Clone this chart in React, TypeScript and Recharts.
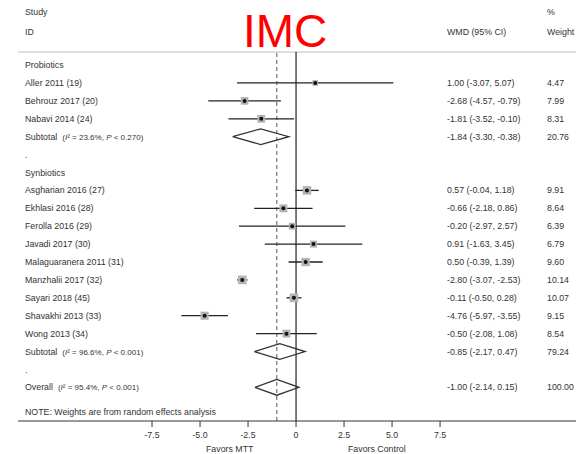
import React from 'react';
import { ScatterChart, Scatter, XAxis, YAxis, ErrorBar, ReferenceLine } from 'recharts';

const FONT = '"Liberation Sans", Arial, Helvetica, sans-serif';
const INK = '#333';

// individual trials
const studies = [
  'Aller 2011 (19)',
  'Behrouz 2017 (20)',
  'Nabavi 2014 (24)',
  'Asgharian 2016 (27)',
  'Ekhlasi 2016 (28)',
  'Ferolla 2016 (29)',
  'Javadi 2017 (30)',
  'Malaguaranera 2011 (31)',
  'Manzhalii 2017 (32)',
  'Sayari 2018 (45)',
  'Shavakhi 2013 (33)',
  'Wong 2013 (34)',
];
const studyEffect = [1.0, -2.68, -1.81, 0.57, -0.66, -0.2, 0.91, 0.5, -2.8, -0.11, -4.76, -0.5];
const studyLower = [-3.07, -4.57, -3.52, -0.04, -2.18, -2.97, -1.63, -0.39, -3.07, -0.5, -5.97, -2.08];
const studyUpper = [5.07, -0.79, -0.1, 1.18, 0.86, 2.57, 3.45, 1.39, -2.53, 0.28, -3.55, 1.08];
const studyWeight = [4.47, 7.99, 8.31, 9.91, 8.64, 6.39, 6.79, 9.6, 10.14, 10.07, 9.15, 8.54];
const studyRow = [1, 2, 3, 7, 8, 9, 10, 11, 12, 13, 14, 15];

// pooled estimates
const pooledNames = ['Subtotal', 'Subtotal', 'Overall'];
const pooledI2 = ['23.6%', '96.6%', '95.4%'];
const pooledP = ['0.270', '0.001', '0.001'];
const pooledEffect = [-1.84, -0.85, -1.0];
const pooledLower = [-3.3, -2.17, -2.14];
const pooledUpper = [-0.38, 0.47, 0.15];
const pooledWeight = ['20.76', '79.24', '100.00'];
const pooledRow = [4, 16, 18];

const groupNames = ['Probiotics', 'Synbiotics'];
const groupRow = [0, 6];
const spacerRow = [5, 17];
const noteRow = 19.35;
const noteText = 'NOTE: Weights are from random effects analysis';

const xTicks = [-7.5, -5, -2.5, 0, 2.5, 5, 7.5];
const xTickLabels = ['-7.5', '-5.0', '-2.5', '0', '2.5', '5.0', '7.5'];
const xDomain = [-14.48, 14.58];
const yDomain = [-0.73, 19.88];
const DIAMOND_H = 0.44;

const fmt = (v: number) => v.toFixed(2);
const ciText = (e: number, l: number, u: number) => `${fmt(e)} (${fmt(l)}, ${fmt(u)})`;

const studyData = studies.map((name, i) => ({
  name,
  x: studyEffect[i],
  y: studyRow[i],
  w: studyWeight[i],
  err: [studyEffect[i] - studyLower[i], studyUpper[i] - studyEffect[i]],
}));

const diamonds = pooledEffect.map((est, i) => {
  const r = pooledRow[i];
  return [
    { x: pooledLower[i], y: r },
    { x: est, y: r - DIAMOND_H },
    { x: pooledUpper[i], y: r },
    { x: est, y: r + DIAMOND_H },
    { x: pooledLower[i], y: r },
  ];
});

type RowInfo = {
  kind: 'group' | 'study' | 'pooled' | 'spacer' | 'note';
  label: string;
  ci?: string;
  weight?: string;
  i2?: string;
  p?: string;
};

const rowInfo = new Map<number, RowInfo>();
groupNames.forEach((g, i) => rowInfo.set(groupRow[i], { kind: 'group', label: g }));
studies.forEach((s, i) =>
  rowInfo.set(studyRow[i], {
    kind: 'study',
    label: s,
    ci: ciText(studyEffect[i], studyLower[i], studyUpper[i]),
    weight: studyWeight[i].toFixed(2),
  })
);
pooledNames.forEach((s, i) =>
  rowInfo.set(pooledRow[i], {
    kind: 'pooled',
    label: s,
    ci: ciText(pooledEffect[i], pooledLower[i], pooledUpper[i]),
    weight: pooledWeight[i],
    i2: pooledI2[i],
    p: pooledP[i],
  })
);
spacerRow.forEach((r) => rowInfo.set(r, { kind: 'spacer', label: '.' }));
rowInfo.set(noteRow, { kind: 'note', label: noteText });
const yTicks = Array.from(rowInfo.keys()).sort((a, b) => a - b);

const RowTick = (props: any) => {
  const { x, y, payload } = props;
  const info = rowInfo.get(payload.value);
  if (!info) return null;
  const base = { fill: INK, fontSize: 8.8, fontFamily: FONT, textAnchor: 'start' as const, dy: '0.35em' };
  return (
    <g>
      <text x={x} y={y} {...base}>
        {info.label}
        {info.kind === 'pooled' && (
          <tspan fontSize={8} dx={5}>
            (<tspan fontStyle="italic">I</tspan>² = {info.i2},{'  '}
            <tspan fontStyle="italic">P</tspan> {'<'} {info.p})
          </tspan>
        )}
      </text>
      {info.ci && (
        <text x={x + 422} y={y} {...base}>
          {info.ci}
        </text>
      )}
      {info.weight && (
        <text x={x + 522} y={y} {...base}>
          {info.weight}
        </text>
      )}
    </g>
  );
};

const WeightBox = (props: any) => {
  const { cx, cy, payload } = props;
  const s = 2.7 * Math.sqrt(payload.w);
  return <rect x={cx - s / 2} y={cy - s / 2} width={s} height={s} fill="#b3b3b3" />;
};

const Dot = (props: any) => <circle cx={props.cx} cy={props.cy} r={2} fill="#111" />;
const NoMark = () => <g />;

const label = (text: string, left: number, top: number, extra: React.CSSProperties = {}) => (
  <div
    style={{
      position: 'absolute',
      left,
      top,
      fontFamily: FONT,
      fontSize: 8.8,
      lineHeight: '10px',
      color: INK,
      whiteSpace: 'nowrap',
      ...extra,
    }}
  >
    {text}
  </div>
);

export default function App() {
  return (
    <div style={{ position: 'absolute', left: 0, top: 0, width: 576, height: 454, background: '#fff' }}>
      <ScatterChart width={576} height={454} margin={{ top: 52, right: 0, bottom: 0, left: 18 }}>
        <ReferenceLine y={yDomain[0]} stroke="#bdbdbd" strokeWidth={1} />
        <ReferenceLine x={0} stroke="#222" strokeWidth={1.2} />
        <ReferenceLine x={pooledEffect[2]} stroke="#555" strokeWidth={1} strokeDasharray="4 3" />
        <XAxis
          type="number"
          dataKey="x"
          domain={xDomain}
          allowDataOverflow
          ticks={xTicks}
          interval={0}
          tickFormatter={(v: number) => xTickLabels[xTicks.indexOf(v)] ?? String(v)}
          height={33}
          tickSize={6}
          tickMargin={5}
          stroke="#333"
          tick={{ fill: INK, fontSize: 8.8, fontFamily: FONT }}
        />
        <YAxis
          type="number"
          dataKey="y"
          domain={yDomain}
          allowDataOverflow
          reversed
          mirror
          ticks={yTicks}
          interval={0}
          axisLine={false}
          tickLine={false}
          tickSize={5}
          tickMargin={2}
          tick={<RowTick />}
        />
        <Scatter data={studyData} shape={<WeightBox />} isAnimationActive={false} />
        <Scatter data={studyData} shape={<Dot />} isAnimationActive={false}>
          <ErrorBar dataKey="err" direction="x" width={0} stroke="#222" strokeWidth={1.3} isAnimationActive={false} />
        </Scatter>
        {diamonds.map((d, i) => (
          <Scatter
            key={i}
            data={d}
            shape={<NoMark />}
            line={{ stroke: '#333', strokeWidth: 1.3 }}
            lineType="joint"
            fill="none"
            isAnimationActive={false}
          />
        ))}
      </ScatterChart>
      {label('IMC', 243, 6, { fontSize: 46, lineHeight: '50px', color: '#ff0000' })}
      {label('Study', 25, 7)}
      {label('ID', 25, 27)}
      {label('WMD (95% CI)', 447, 27)}
      {label('%', 547, 7)}
      {label('Weight', 547, 27)}
      {label('Favors MTT', 206, 444)}
      {label('Favors Control', 348, 444)}
    </div>
  );
}
